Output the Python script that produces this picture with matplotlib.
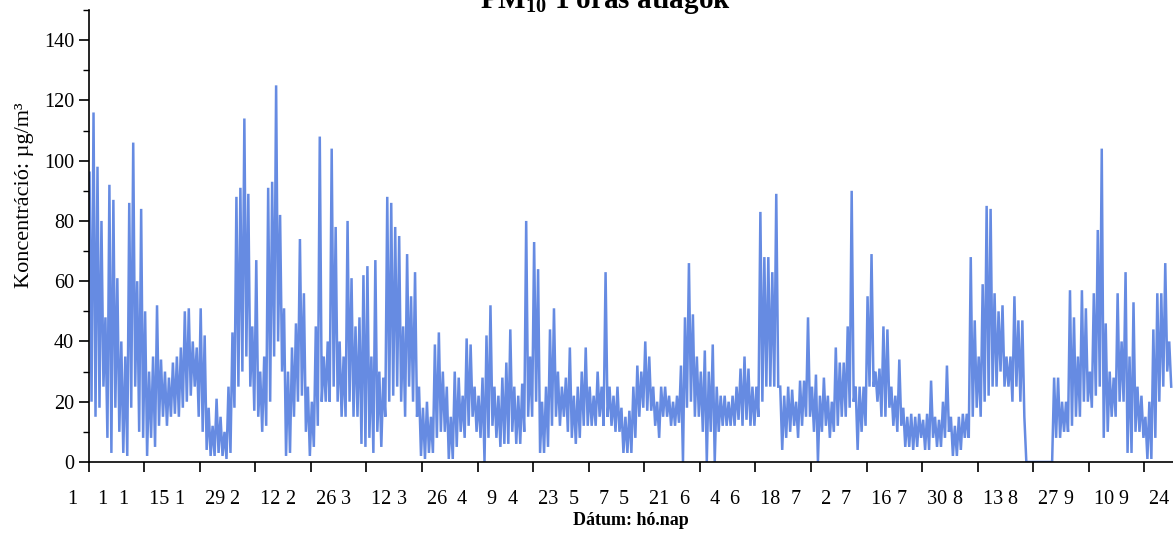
import numpy as np
import matplotlib.pyplot as plt

plt.rcParams['font.family'] = ['Liberation Serif', 'DejaVu Serif']
plt.rcParams['mathtext.fontset'] = 'custom'
plt.rcParams['mathtext.rm'] = 'Liberation Serif'
plt.rcParams['mathtext.bf'] = 'Liberation Serif:bold'

# Daily highest and lowest hourly PM10 value (ug/m3), 1 Jan - 30 Sep
pm10_max = [
    96, 116, 98, 80, 48, 92, 87, 61, 40, 35,
    86, 106, 60, 84, 50, 30, 35, 52, 34, 30,
    28, 33, 35, 38, 50, 51, 40, 38, 51, 42,
    18, 12, 21, 15, 10, 25, 43, 88, 91, 114,
    89, 45, 67, 30, 35, 91, 93, 125, 82, 51,
    30, 38, 46, 74, 56, 25, 20, 45, 108, 35,
    40, 104, 78, 40, 35, 80, 61, 45, 48, 62,
    65, 35, 67, 30, 28, 88, 86, 78, 75, 45,
    69, 55, 63, 25, 18, 20, 15, 39, 43, 30,
    25, 15, 30, 28, 22, 41, 39, 25, 22, 28,
    42, 52, 25, 22, 28, 33, 44, 25, 22, 26,
    80, 35, 73, 64, 20, 25, 44, 51, 30, 25,
    28, 38, 22, 25, 30, 38, 25, 22, 30, 25,
    63, 25, 22, 25, 18, 15, 17, 25, 32, 30,
    40, 35, 25, 20, 25, 25, 22, 20, 22, 32,
    48, 66, 49, 35, 30, 37, 30, 39, 25, 22,
    22, 20, 22, 25, 31, 35, 31, 25, 25, 83,
    68, 68, 63, 89, 25, 22, 25, 24, 20, 27,
    27, 48, 25, 29, 22, 28, 22, 20, 38, 33,
    33, 45, 90, 25, 25, 25, 55, 69, 30, 31,
    45, 44, 25, 22, 34, 18, 15, 16, 15, 16,
    14, 16, 27, 15, 14, 20, 32, 15, 12, 15,
    16, 16, 68, 47, 35, 59, 85, 84, 56, 50,
    52, 35, 35, 55, 47, 47, 0, 0, 0, 0,
    0, 0, 0, 28, 28, 20, 20, 57, 48, 35,
    57, 51, 30, 56, 77, 104, 46, 30, 28, 56,
    40, 63, 35, 53, 25, 22, 15, 20, 44, 56,
    56, 66, 40,
]
pm10_min = [
    20, 15, 18, 25, 8, 3, 18, 10, 3, 2,
    18, 25, 10, 8, 2, 8, 5, 12, 15, 12,
    15, 16, 15, 18, 20, 22, 25, 15, 10, 4,
    2, 2, 3, 2, 1, 3, 18, 25, 30, 35,
    25, 17, 15, 10, 12, 20, 35, 40, 30, 2,
    3, 15, 20, 22, 10, 2, 5, 12, 20, 20,
    20, 25, 20, 15, 15, 20, 15, 15, 6, 5,
    8, 3, 10, 5, 15, 20, 22, 25, 20, 15,
    25, 20, 15, 2, 1, 3, 3, 8, 10, 10,
    1, 1, 5, 10, 8, 12, 15, 10, 8, 0,
    8, 12, 8, 5, 6, 6, 10, 6, 6, 10,
    15, 15, 20, 3, 3, 5, 12, 15, 12, 15,
    10, 8, 6, 8, 12, 12, 12, 12, 15, 12,
    15, 12, 10, 10, 3, 3, 3, 8, 15, 18,
    17, 17, 12, 8, 15, 15, 12, 12, 13, 0,
    18, 20, 15, 15, 10, 0, 10, 0, 10, 12,
    12, 12, 12, 14, 12, 14, 12, 12, 15, 20,
    25, 25, 25, 25, 4, 8, 10, 12, 8, 12,
    15, 15, 10, 0, 10, 12, 8, 10, 12, 15,
    15, 18, 20, 4, 10, 12, 25, 25, 20, 15,
    15, 18, 12, 10, 12, 5, 5, 4, 5, 8,
    4, 4, 8, 5, 5, 8, 10, 2, 2, 4,
    8, 8, 15, 18, 15, 20, 22, 25, 25, 30,
    25, 25, 20, 25, 20, 15, 0, 0, 0, 0,
    0, 0, 0, 8, 8, 10, 10, 12, 15, 15,
    20, 20, 18, 22, 25, 8, 10, 15, 15, 20,
    20, 3, 3, 10, 10, 8, 1, 1, 8, 20,
    25, 30, 25,
]

# Tick labels every 14 days: month and day
tick_months = [1, 1, 1, 2, 2, 3, 3, 4, 4, 5, 5, 6, 6, 7, 7, 7, 8, 8, 9, 9]
tick_days = [1, 15, 29, 12, 26, 12, 26, 9, 23, 7, 21, 4, 18, 2, 16, 30, 13, 27, 10, 24]

days = np.arange(len(pm10_max))
x = np.column_stack([days + 0.25, days + 0.75]).ravel()
y = np.column_stack([pm10_max, pm10_min]).ravel()

fig = plt.figure(figsize=(11.73, 5.57), dpi=100)
ax = fig.add_axes([0.0755, 0.1706, 0.9245, 0.8114])

ax.plot(x, y, color='#668be2', lw=1.8, solid_joinstyle='miter')

ax.set_xlim(0, 273.2)
ax.set_ylim(0, 150)
ax.set_yticks(np.arange(0, 141, 20))
ax.set_yticks(np.arange(0, 151, 10), minor=True)
ax.set_xticks(np.arange(len(tick_months)) * 14)
ax.set_xticklabels([f'{m}    {d}' for m, d in zip(tick_months, tick_days)])

for side in ['top', 'right']:
    ax.spines[side].set_visible(False)
for side in ['left', 'bottom']:
    ax.spines[side].set_linewidth(1.2)

ax.tick_params(axis='both', direction='out', length=7, width=1.2,
               labelsize=14.5, colors='black')
ax.tick_params(axis='x', pad=13)
ax.tick_params(axis='y', which='minor', length=4, width=1)

ax.set_ylabel('Koncentráció: µg/m³', fontsize=16)
ax.yaxis.set_label_coords(-0.05, 0.59)
ax.set_xlabel('Dátum: hó.nap', fontsize=13, fontweight='bold')
ax.xaxis.set_label_coords(0.5, -0.11)

fig.text(605 / 1173, 1 - 8 / 557, r'PM$_{\mathbf{10}}$ 1 órás átlagok',
         ha='center', va='baseline', fontsize=21, fontweight='bold')

fig.savefig('out.png', dpi=100)
